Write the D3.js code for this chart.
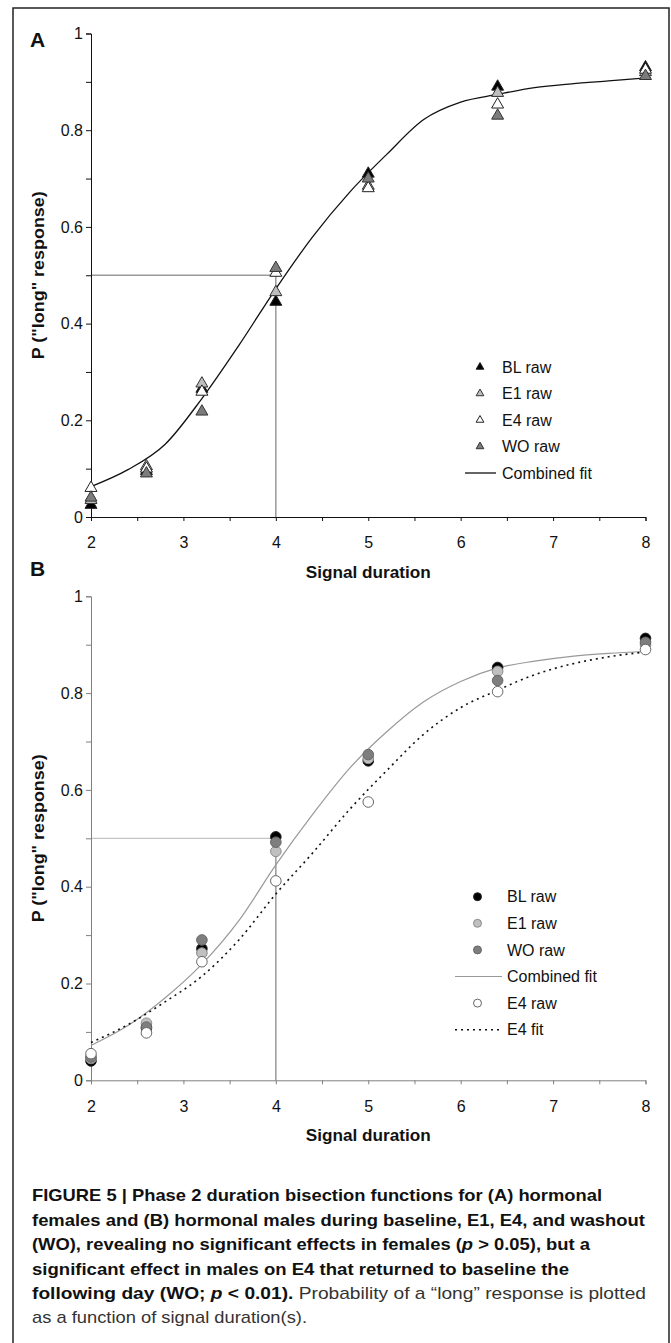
<!DOCTYPE html>
<html>
<head>
<meta charset="utf-8">
<script src="https://cdn.jsdelivr.net/npm/d3@7"></script>
<style>
  body { margin: 0; background: #fff; }
  text { font-family: "Liberation Sans", Arial, sans-serif; fill: #111; }
  .narrow { font-family: "Liberation Sans Narrow", "Liberation Sans", Arial, sans-serif; }
</style>
</head>
<body>
<div id="chart"></div>
<script>
// --- DATA ---
const durations = [2, 2.6, 3.2, 4, 5, 6.4, 8];
const fitX = [2, 2.4, 2.8, 3.2, 3.6, 4, 4.4, 4.8, 5.2, 5.6, 6, 6.4, 6.8, 7.2, 7.6, 8];

// panel A (females)
const aBL = [0.025, 0.095, 0.265, 0.445, 0.71, 0.89, 0.93];
const aE1 = [0.035, 0.105, 0.276, 0.465, 0.685, 0.877, 0.92];
const aE4 = [0.06, 0.1, 0.259, 0.505, 0.68, 0.853, 0.925];
const aWO = [0.04, 0.09, 0.218, 0.515, 0.7, 0.83, 0.912];
const aFit = [0.063, 0.098, 0.15, 0.245, 0.355, 0.472, 0.58, 0.672, 0.75, 0.822, 0.858, 0.874, 0.888, 0.896, 0.902, 0.908];

// panel B (males)
const bBL = [0.04, 0.108, 0.272, 0.503, 0.66, 0.853, 0.913];
const bE1 = [0.045, 0.118, 0.263, 0.473, 0.665, 0.845, 0.9];
const bWO = [0.048, 0.11, 0.29, 0.492, 0.673, 0.826, 0.905];
const bE4 = [0.055, 0.098, 0.245, 0.412, 0.575, 0.803, 0.89];
const bFit = [0.072, 0.113, 0.17, 0.24, 0.33, 0.445, 0.55, 0.645, 0.72, 0.782, 0.824, 0.852, 0.866, 0.876, 0.882, 0.886];
const bE4Fit = [0.078, 0.115, 0.162, 0.215, 0.29, 0.385, 0.47, 0.56, 0.64, 0.715, 0.77, 0.806, 0.838, 0.86, 0.875, 0.885];

const yTicks = [0, 0.1, 0.2, 0.3, 0.4, 0.5, 0.6, 0.7, 0.8, 0.9, 1];
const yLabels = ["0", "", "0.2", "", "0.4", "", "0.6", "", "0.8", "", "1"];
const xTicks = [2, 2.5, 3, 3.5, 4, 4.5, 5, 5.5, 6, 6.5, 7, 7.5, 8];
const xLabels = ["2", "", "3", "", "4", "", "5", "", "6", "", "7", "", "8"];

const legendA = ["BL raw", "E1 raw", "E4 raw", "WO raw", "Combined fit"];
const legendB = ["BL raw", "E1 raw", "WO raw", "Combined fit", "E4 raw", "E4 fit"];

const captionLines = [
  [["b", "FIGURE 5 | Phase 2 duration bisection functions for (A) hormonal"]],
  [["b", "females and (B) hormonal males during baseline, E1, E4, and washout"]],
  [["b", "(WO), revealing no significant effects in females ("], ["bi", "p"], ["b", " > 0.05), but a"]],
  [["b", "significant effect in males on E4 that returned to baseline the"]],
  [["b", "following day (WO; "], ["bi", "p"], ["b", " < 0.01)."], ["r", " Probability of a \u201Clong\u201D response is plotted"]],
  [["r", "as a function of signal duration(s)."]]
];
const captionWidths = [570, 613, 558, 537, 614, 275];

// --- SETUP ---
const W = 671, H = 1343;
const svg = d3.select("#chart").append("svg").attr("width", W).attr("height", H);

svg.append("rect")
  .attr("x", 13).attr("y", 8).attr("width", 656).attr("height", H + 10)
  .attr("fill", "none").attr("stroke", "#222").attr("stroke-width", 1.5);

const x = d3.scaleLinear().domain([2, 8]).range([91, 645.5]);

function drawPanel(opt) {
  const y = d3.scaleLinear().domain([0, 1]).range(opt.yRange);
  const g = svg.append("g");

  // reference lines at PSE
  g.append("line")
    .attr("x1", x(2)).attr("x2", x(4)).attr("y1", y(0.5)).attr("y2", y(0.5))
    .attr("stroke", opt.refH).attr("stroke-width", 1.3);
  g.append("line")
    .attr("x1", x(4)).attr("x2", x(4)).attr("y1", y(0)).attr("y2", y(0.5))
    .attr("stroke", "#999").attr("stroke-width", 1.5);

  // axes
  const yAxis = g.append("g")
    .attr("transform", `translate(${x(2)},0)`)
    .call(d3.axisLeft(y).tickValues(yTicks).tickSize(5).tickPadding(3)
      .tickFormat((d, i) => yLabels[i]));
  const xAxis = g.append("g")
    .attr("transform", `translate(0,${y(0)})`)
    .call(d3.axisBottom(x).tickValues(xTicks).tickSize(4).tickPadding(16)
      .tickFormat((d, i) => xLabels[i]));
  [yAxis, xAxis].forEach((a) => {
    a.select(".domain").attr("stroke", opt.axisColor);
    a.selectAll(".tick line").attr("stroke", opt.axisColor);
    a.selectAll("text").style("font-size", "16px").attr("fill", "#111");
  });

  // axis titles
  g.append("text")
    .attr("x", (x(2) + x(8)) / 2).attr("y", y(0) + 61)
    .attr("text-anchor", "middle")
    .attr("textLength", 125).attr("lengthAdjust", "spacingAndGlyphs")
    .style("font-size", "16px").style("font-weight", "bold")
    .text("Signal duration");
  g.append("text")
    .attr("transform", `translate(44,${(y(0) + y(1)) / 2}) rotate(-90)`)
    .attr("text-anchor", "middle")
    .attr("textLength", 168).attr("lengthAdjust", "spacingAndGlyphs")
    .style("font-size", "16px").style("font-weight", "bold")
    .text("P (\"long\" response)");

  g.append("text")
    .attr("x", 30).attr("y", opt.labelY)
    .style("font-size", "21px").style("font-weight", "bold")
    .text(opt.label);

  // fit lines
  const line = d3.line().x((d) => x(d[0])).y((d) => y(d[1])).curve(d3.curveMonotoneX);
  opt.fits.forEach((f) => {
    g.append("path")
      .datum(fitX.map((v, i) => [v, f.values[i]]))
      .attr("d", line)
      .attr("fill", "none")
      .attr("stroke", f.color)
      .attr("stroke-width", f.width)
      .attr("stroke-dasharray", f.dash || null);
  });

  // raw markers
  opt.series.forEach((s) => {
    g.selectAll(null)
      .data(durations.map((v, i) => [v, s.values[i]]))
      .enter()
      .append("path")
      .attr("transform", (d) => `translate(${x(d[0])},${y(d[1])})`)
      .attr("d", opt.symbol(opt.size))
      .attr("fill", s.fill)
      .attr("stroke", s.stroke)
      .attr("stroke-width", 1);
  });

  // legend
  const lg = g.append("g");
  opt.legend.forEach((name, i) => {
    const ly = opt.legendY + i * opt.legendStep;
    const item = opt.legendItems[i];
    if (item.kind === "line") {
      lg.append("line")
        .attr("x1", opt.legendLine[0]).attr("x2", opt.legendLine[1])
        .attr("y1", ly).attr("y2", ly)
        .attr("stroke", item.color).attr("stroke-width", item.width)
        .attr("stroke-dasharray", item.dash || null);
    } else {
      lg.append("path")
        .attr("transform", `translate(${opt.legendMarkX},${ly})`)
        .attr("d", opt.symbol(opt.legendSize))
        .attr("fill", item.fill).attr("stroke", item.stroke).attr("stroke-width", 1);
    }
    lg.append("text")
      .attr("x", opt.legendTextX).attr("y", ly).attr("dy", "0.36em")
      .style("font-size", "16px")
      .text(name);
  });
}

const tri = (s) => d3.symbol(d3.symbolTriangle, s)();
const circ = (s) => d3.symbol(d3.symbolCircle, s)();

drawPanel({
  yRange: [517, 33.5],
  axisColor: "#111",
  refH: "#999",
  label: "A", labelY: 47,
  symbol: tri, size: 62, legendSize: 26,
  fits: [{ values: aFit, color: "#111", width: 1.3 }],
  series: [
    { values: aBL, fill: "#000", stroke: "#222" },
    { values: aE1, fill: "#bdbdbd", stroke: "#333" },
    { values: aE4, fill: "#fff", stroke: "#222" },
    { values: aWO, fill: "#7c7c7c", stroke: "#333" }
  ],
  legend: legendA,
  legendItems: [
    { fill: "#000", stroke: "#222" },
    { fill: "#bdbdbd", stroke: "#333" },
    { fill: "#fff", stroke: "#222" },
    { fill: "#7c7c7c", stroke: "#333" },
    { kind: "line", color: "#111", width: 1.3 }
  ],
  legendY: 367, legendStep: 26.5,
  legendMarkX: 480, legendTextX: 502, legendLine: [465, 496]
});

drawPanel({
  yRange: [1080.3, 596.3],
  axisColor: "#808080",
  refH: "#c4c4c4",
  label: "B", labelY: 576,
  symbol: circ, size: 88, legendSize: 50,
  fits: [
    { values: bFit, color: "#999", width: 1.2 },
    { values: bE4Fit, color: "#111", width: 1.6, dash: "2,4" }
  ],
  series: [
    { values: bBL, fill: "#000", stroke: "#222" },
    { values: bE1, fill: "#c0c0c0", stroke: "#8a8a8a" },
    { values: bWO, fill: "#7e7e7e", stroke: "#666" },
    { values: bE4, fill: "#fff", stroke: "#666" }
  ],
  legend: legendB,
  legendItems: [
    { fill: "#000", stroke: "#222" },
    { fill: "#c0c0c0", stroke: "#8a8a8a" },
    { fill: "#7e7e7e", stroke: "#666" },
    { kind: "line", color: "#999", width: 1.2 },
    { fill: "#fff", stroke: "#666" },
    { kind: "line", color: "#111", width: 1.6, dash: "2,4" }
  ],
  legendY: 896.7, legendStep: 26.6,
  legendMarkX: 477.5, legendTextX: 507, legendLine: [455, 502]
});

// --- CAPTION ---
const capBase = [1201, 1225.5, 1250, 1275, 1299, 1323];
captionLines.forEach((parts, i) => {
  const t = svg.append("text")
    .attr("class", "narrow")
    .attr("x", 32).attr("y", capBase[i])
    .attr("textLength", captionWidths[i]).attr("lengthAdjust", "spacingAndGlyphs")
    .style("font-size", "17px");
  parts.forEach(([k, s]) => {
    t.append("tspan")
      .style("font-weight", k === "r" ? "normal" : "bold")
      .style("font-style", k === "bi" ? "italic" : "normal")
      .attr("fill", k === "r" ? "#333" : "#111")
      .text(s);
  });
});
</script>
</body>
</html>
